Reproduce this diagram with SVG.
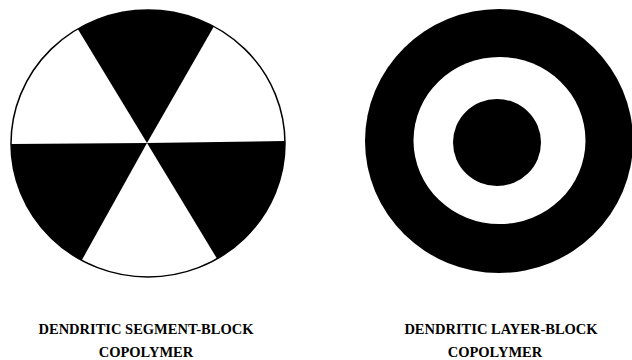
<svg xmlns="http://www.w3.org/2000/svg" width="632" height="360" viewBox="0 0 632 360">
<style>
.lbl{font-family:"Liberation Serif","Times New Roman",serif;font-weight:bold;font-size:14.5px;fill:#000;text-anchor:middle}
.blk{fill:#000}
</style>
<defs>
<clipPath id="lc"><ellipse cx="148" cy="143.5" rx="137" ry="133.5"/></clipPath>
</defs>
<rect width="632" height="360" fill="#fff"/>
<g id="segment-block">
<ellipse cx="148" cy="143.5" rx="137" ry="133.5" fill="#fff"/>
<g clip-path="url(#lc)">
<polygon class="blk" points="147,143 11,-81 279,-87"/>
<polygon class="blk" points="147,143 -125,145 19,373"/>
<polygon class="blk" points="147,143 423,139 285,371"/>
</g>
<ellipse cx="148" cy="143.5" rx="137" ry="133.5" fill="none" stroke="#000" stroke-width="1.5"/>
</g>
<g id="layer-block">
<ellipse cx="499" cy="141" rx="134" ry="132" fill="#000"/>
<ellipse cx="499.5" cy="140.5" rx="86" ry="83.5" fill="#fff"/>
<ellipse cx="497" cy="142.5" rx="44" ry="43.5" fill="#000"/>
</g>
<g id="labels">
<text class="lbl" x="146" y="334">DENDRITIC SEGMENT-BLOCK</text>
<text class="lbl" x="146" y="357">COPOLYMER</text>
<text class="lbl" x="501" y="334">DENDRITIC LAYER-BLOCK</text>
<text class="lbl" x="495" y="357">COPOLYMER</text>
</g>
</svg>
